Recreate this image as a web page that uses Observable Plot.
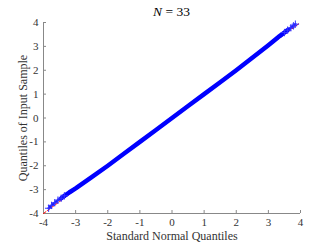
<!DOCTYPE html>
<html>
<head>
<meta charset="utf-8">
<script src="https://cdn.jsdelivr.net/npm/d3@7"></script>
<script src="https://cdn.jsdelivr.net/npm/@observablehq/plot@0.6"></script>
<style>
  html, body { margin: 0; padding: 0; background: #fff; }
  #wrap { position: relative; width: 332px; height: 249px; font-family: "Liberation Serif", "Times New Roman", serif; }
  #title { position: absolute; left: 43px; top: 3px; width: 257px; height: 18px; line-height: 18px; font-size: 13.5px; color: #000; text-align: center; }
</style>
</head>
<body>
<div id="wrap">
  <div id="chart"></div>
  <div id="title"><i>N</i> = 33</div>
</div>
<script>
// Tick labels
const xTicks = [-4, -3, -2, -1, 0, 1, 2, 3, 4];
const yTicks = [-4, -3, -2, -1, 0, 1, 2, 3, 4];

// Sample quantiles vs standard normal quantiles
const qx = [-3.84, -3.75, -3.65, -3.55, -3.45, -3.35, -3.2, -3.0, -2.5, -2.0, -1.5, -1.0, -0.5, 0, 0.5, 1.0, 1.5, 2.0, 2.5, 3.0, 3.2, 3.35, 3.5, 3.6, 3.7, 3.78, 3.84];
const qy = [-3.78, -3.66, -3.55, -3.44, -3.36, -3.26, -3.12, -2.95, -2.48, -2.0, -1.5, -1.0, -0.5, 0, 0.5, 1.0, 1.5, 2.0, 2.52, 3.05, 3.27, 3.43, 3.58, 3.68, 3.78, 3.86, 3.93];

// Reference line endpoints
const refX = [-4, 3.97];
const refY = [-4, 3.97];

const pts = qx.map((x, i) => ({x, y: qy[i]}));
const ref = refX.map((x, i) => ({x, y: refY[i]}));
const core = pts.filter(d => d.x >= -3.45 && d.x <= 3.6);
const tails = pts.filter(d => d.x < -3.3 || d.x > 3.4);

const axisColor = "#888";
const textColor = "#333";

const chart = Plot.plot({
  width: 332,
  height: 249,
  marginTop: 22,
  marginBottom: 36,
  marginLeft: 43,
  marginRight: 32,
  style: {fontFamily: "Liberation Serif, Times New Roman, serif", fontSize: "11px", color: textColor, background: "#fff", overflow: "visible"},
  x: {domain: [-4, 4], ticks: xTicks},
  y: {domain: [-4, 4], ticks: yTicks},
  marks: [
    Plot.ruleY([-4], {stroke: axisColor}),
    Plot.ruleX([-4], {stroke: axisColor}),
    Plot.axisX({ticks: xTicks, tickSize: -3, tickPadding: 8, stroke: axisColor, fill: textColor, label: null, tickFormat: d => String(d)}),
    Plot.axisY({ticks: yTicks, tickSize: -3, tickPadding: 8, stroke: axisColor, fill: textColor, label: null, tickFormat: d => String(d)}),
    Plot.line(ref, {x: "x", y: "y", stroke: "#ff0000", strokeWidth: 1, strokeDasharray: "3,2"}),
    Plot.line(pts, {x: "x", y: "y", stroke: "#1a1aff", strokeWidth: 2.5}),
    Plot.line(core, {x: "x", y: "y", stroke: "#0000ff", strokeWidth: 4.5}),
    Plot.dot(tails, {x: "x", y: "y", symbol: "plus", r: 2.5, stroke: "#3333ff", strokeWidth: 1}),
    Plot.text(["Standard Normal Quantiles"], {frameAnchor: "bottom", dy: 26, fontSize: 12, fill: textColor}),
    Plot.text(["Quantiles of Input Sample"], {frameAnchor: "left", textAnchor: "middle", dx: -20, rotate: -90, fontSize: 12, fill: textColor})
  ]
});
document.getElementById("chart").appendChild(chart);
</script>
</body>
</html>
